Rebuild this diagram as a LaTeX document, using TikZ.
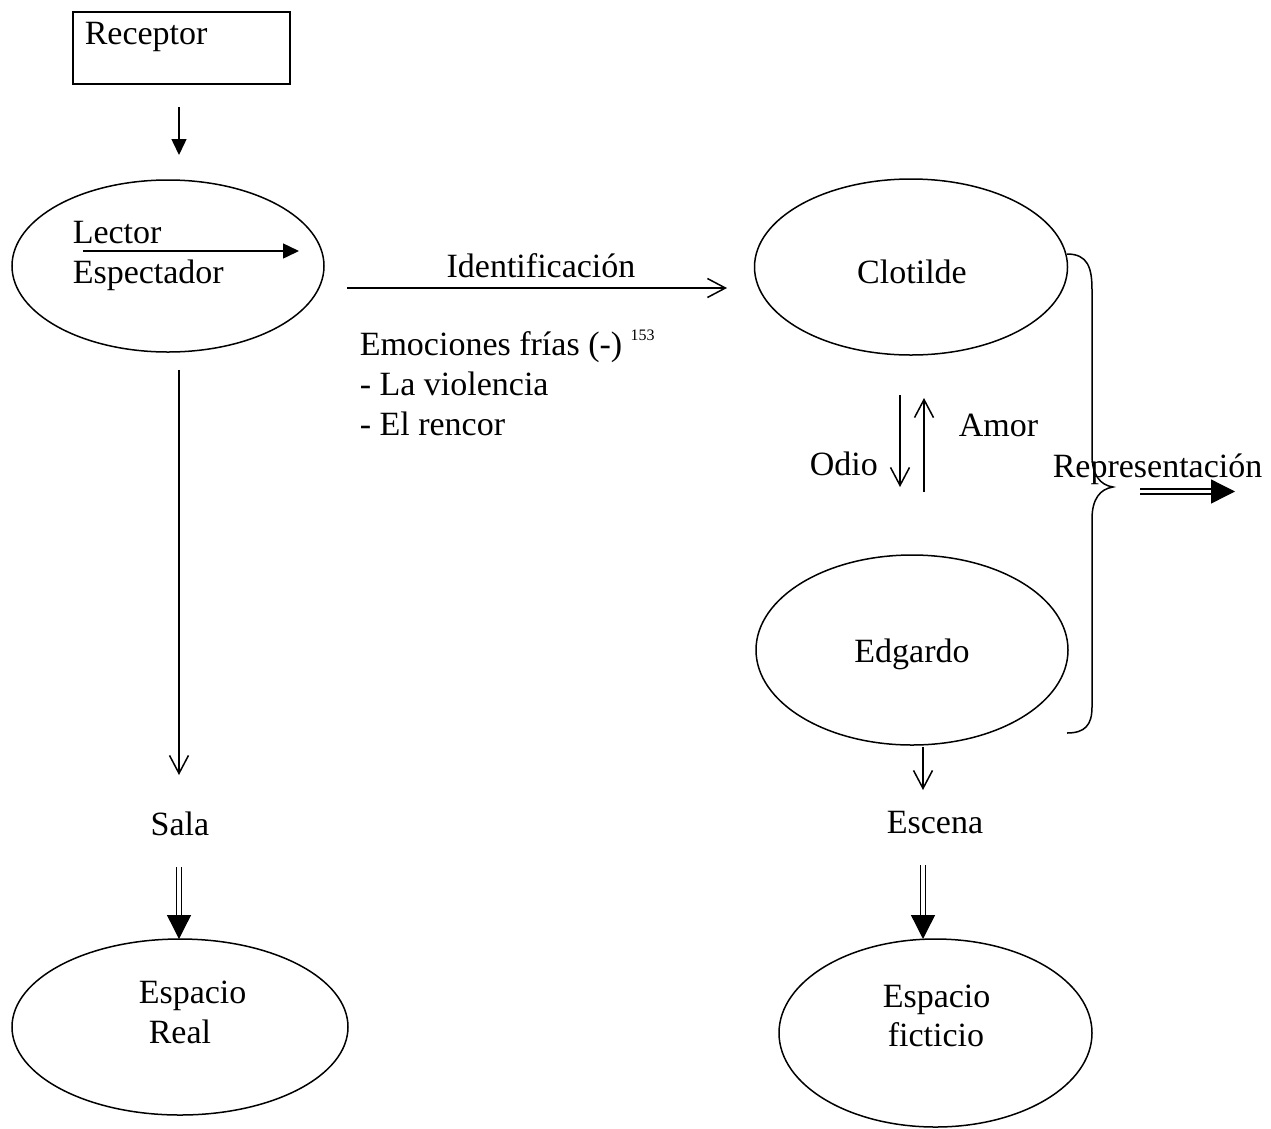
\documentclass[tikz,border=0pt]{standalone}
\usepackage{fontspec}
\setmainfont{Liberation Serif}
\usetikzlibrary{arrows.meta,shapes.geometric,calc}
\begin{document}
\begin{tikzpicture}[x=1pt,y=-1pt,line width=1.5pt,
  font=\fontsize{34}{40}\selectfont,
  rectbox/.style={draw,rectangle,inner sep=0pt,outer sep=0pt},
  oval/.style={draw,ellipse,inner sep=0pt,outer sep=0pt},
  lbl/.style={inner sep=0pt,anchor=base west},
  lblc/.style={inner sep=0pt,anchor=base},
  opentip/.style={-{Straight Barb[length=18pt,width=19pt]}},
  filltip/.style={-{Triangle[length=16pt,width=15pt]}},
  dbltip/.style={double,double distance=3.5pt,line width=1.3pt,
    -{Triangle[length=24pt,width=24pt]}}]
\useasboundingbox (0,0) rectangle (1271,1128);

% boxes and ovals
\node[rectbox,minimum width=217pt,minimum height=72pt] (rec) at (181.5,48) {};
\node[lbl] (recT) at (84,44) {Receptor};

\node[oval,minimum width=312pt,minimum height=172pt] (lec) at (168,266) {};
\node[lbl] (lecT1) at (72,243) {Lector};
\node[lbl] (lecT2) at (72,283) {Espectador};

\node[oval,minimum width=313pt,minimum height=176pt] (clo) at (911,267) {};
\node[lblc] (cloT) at (912,283) {Clotilde};

\node[oval,minimum width=312pt,minimum height=190pt] (edg) at (912,650) {};
\node[lblc] (edgT) at (912,662) {Edgardo};

\node[lblc] (sala) at (180,835) {Sala};
\node[lblc] (escena) at (935,833) {Escena};

\node[oval,minimum width=336pt,minimum height=176pt] (real) at (180,1027) {};
\node[lbl] (realT1) at (138,1003) {Espacio};
\node[lbl] (realT2) at (148,1043) {Real};

\node[oval,minimum width=313pt,minimum height=188pt] (fict) at (935.5,1033) {};
\node[lbl] (fictT1) at (882,1007) {Espacio};
\node[lbl] (fictT2) at (887,1046) {ficticio};

% free texts
\node[lblc] (ident) at (541,277) {Identificación};
\node[lbl] (emo1) at (359,355) {Emociones frías (-) \raisebox{15pt}{\fontsize{16}{16}\selectfont 153}};
\node[lbl] (emo2) at (359,395) {- La violencia};
\node[lbl] (emo3) at (359,435) {- El rencor};
\node[lbl] (odio) at (809,475) {Odio};
\node[lbl] (amor) at (958,436) {Amor};
\node[lbl] (repr) at (1052,477) {Representación};

% connectors
\draw[filltip] ([xshift=-2.5pt,yshift=-23pt]rec.south) -- ([xshift=11pt,yshift=25pt]lec.north);
\coordinate (innerA) at (83,251);
\coordinate (innerB) at (299,251);
\draw[filltip] (innerA) -- (innerB);

\draw[opentip] ([xshift=23pt,yshift=-22pt]lec.east) -- ([xshift=-27.5pt,yshift=-21pt]clo.west);

\draw[opentip] ([xshift=-11pt,yshift=-40pt]clo.south) -- ([xshift=-12pt,yshift=68pt]edg.north);
\draw[opentip] ([xshift=12pt,yshift=63pt]edg.north) -- ([xshift=13pt,yshift=-43pt]clo.south);

\draw[opentip] ([xshift=11pt,yshift=-18pt]lec.south) -- ([xshift=-1pt,yshift=60pt]sala.base);
\draw[dbltip] ([xshift=-1pt,yshift=-32pt]sala.base) -- ([xshift=-1pt]real.north);

\draw[opentip] ([xshift=11pt,yshift=-2pt]edg.south) -- ([xshift=-12pt,yshift=43pt]escena.base);
\draw[dbltip] ([xshift=-12pt,yshift=-32pt]escena.base) -- ([xshift=-12.5pt]fict.north);

% brace grouping Clotilde and Edgardo
\coordinate (cusp) at (1113,487);
\draw (1067,254) .. controls (1088,254) and (1092,268) .. (1092,290)
  -- (1092,455) .. controls (1092,475) and (1100,485) .. (cusp)
  .. controls (1100,489) and (1092,499) .. (1092,519)
  -- (1092,707) .. controls (1092,725) and (1085,733) .. (1067,733);

\coordinate (reprA) at (1140,491.5);
\coordinate (reprB) at (1235,491.5);
\draw[dbltip] (reprA) -- (reprB);
\end{tikzpicture}
\end{document}
